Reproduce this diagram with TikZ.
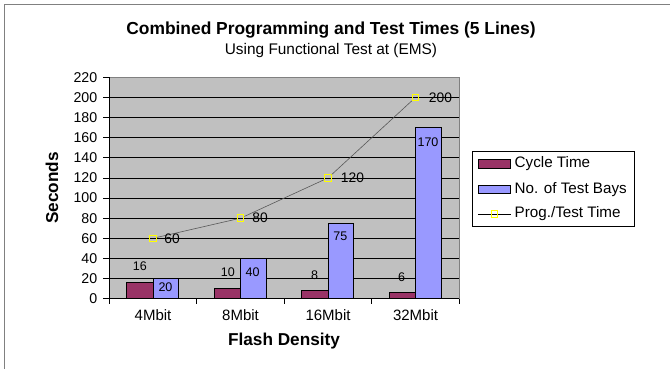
\documentclass[tikz,border=0pt]{standalone}
\usepackage{fontspec}
\setmainfont{Liberation Sans}
\definecolor{plotbg}{HTML}{C0C0C0}
\definecolor{cyclecol}{HTML}{993366}
\definecolor{baycol}{HTML}{9999FF}
\definecolor{markcol}{HTML}{FFFF00}
\definecolor{framecol}{HTML}{808080}
\begin{document}
\begin{tikzpicture}[x=1pt,y=1pt,
  ticklbl/.style={font=\fontsize{14.2}{14.2}\selectfont, inner sep=0pt, anchor=east},
  catlbl/.style={font=\fontsize{15}{15}\selectfont, inner sep=0pt},
  datalbl/.style={font=\fontsize{12.5}{12.5}\selectfont, inner sep=0pt},
  linelbl/.style={font=\fontsize{13.8}{13.8}\selectfont, inner sep=0pt, anchor=west},
  leglbl/.style={font=\fontsize{15.2}{15.2}\selectfont, inner sep=0pt, anchor=west},
  cyclebar/.style={fill=cyclecol, draw=black, line width=0.8pt},
  baybar/.style={fill=baycol, draw=black, line width=0.8pt},
  marker/.style={draw=markcol, line width=0.9pt, rectangle, minimum size=6.5pt, inner sep=0pt},
  progline/.style={draw=black!65, line width=0.6pt},
  grid line/.style={draw=black, line width=0.8pt},
]
\useasboundingbox (0,0) rectangle (670,369);
\fill[white] (0,0) rectangle (670,369);
\draw[framecol, line width=0.9pt] (4,0) -- (4,365) -- (670,365);

% titles
\node[font=\fontsize{17.4}{17.4}\selectfont\bfseries, inner sep=0pt] (title) at (331,339) {Combined Programming and Test Times (5 Lines)};
\node[font=\fontsize{15.4}{15.4}\selectfont, inner sep=0pt] (subtitle) at (331,318) {Using Functional Test at (EMS)};
\node[font=\fontsize{17.2}{17.2}\selectfont\bfseries, inner sep=0pt] (xtitle) at (284,28.3) {Flash Density};
\node[font=\fontsize{17.2}{17.2}\selectfont\bfseries, inner sep=0pt, rotate=90] (ytitle) at (52,181) {Seconds};

\begin{scope}[shift={(109.3,70.3)}, yscale=1.00636]
  \fill[plotbg] (0,0) rectangle (350,220);
  \foreach \v in {20,40,...,200} \draw[grid line] (0,\v) -- (350,\v);
  \draw[framecol, line width=0.8pt] (0,220) -- (350,220) -- (350,0);
  % bars
  \foreach \i/\c/\b in {0/16/20, 1/10/40, 2/8/75, 3/6/170} {
    \draw[cyclebar] ({87.5*\i+17.5},0) rectangle ({87.5*\i+43.75},\c);
    \draw[baybar] ({87.5*\i+43.75},0) rectangle ({87.5*\i+69.5},\b);
  }
  % axes
  \draw[black, line width=0.9pt] (0,220) -- (0,0) -- (350,0);
  \foreach \v in {0,20,...,220} {
    \draw[black, line width=0.8pt] (-6,\v) -- (0,\v);
    \node[ticklbl] (yl\v) at (-11.9,\v) {\v};
  }
  \foreach \i in {0,...,4} \draw[black, line width=0.8pt] ({87.5*\i},0) -- ({87.5*\i},-5);
  % category labels
  \node[catlbl] (c1) at (43.75,-16.2) {4Mbit};
  \node[catlbl] (c2) at (131.25,-16.2) {8Mbit};
  \node[catlbl] (c3) at (218.75,-16.2) {16Mbit};
  \node[catlbl] (c4) at (306.25,-16.2) {32Mbit};
  % data labels cycle
  \node[datalbl] (d1) at (30.6,32.5) {16};
  \node[datalbl] (d2) at (118.5,26.5) {10};
  \node[datalbl] (d3) at (205.2,23.5) {8};
  \node[datalbl] (d4) at (292.2,21.6) {6};
  % data labels bays
  \node[datalbl] (e1) at (56.2,11.9) {20};
  \node[datalbl] (e2) at (143.2,26.8) {40};
  \node[datalbl] (e3) at (231,61.6) {75};
  \node[datalbl] (e4) at (318.7,156) {170};
  % line series
  \node[marker] (m1) at (43.75,60) {};
  \node[marker] (m2) at (131.25,80) {};
  \node[marker] (m3) at (218.75,120) {};
  \node[marker] (m4) at (306.25,200) {};
  \draw[progline] (m1) -- (m2) -- (m3) -- (m4);
  \node[linelbl] (l1) at ([xshift=7.5pt]m1.east) {60};
  \node[linelbl] (l2) at ([xshift=8pt]m2.east) {80};
  \node[linelbl] (l3) at ([xshift=9pt]m3.east) {120};
  \node[linelbl] (l4) at ([xshift=9.5pt]m4.east) {200};
\end{scope}

% legend
\node[draw=black, line width=0.8pt, minimum width=161.3pt, minimum height=75pt, inner sep=0pt, fill=white] (legend) at (553.35,179.8) {};
\draw[cyclebar] (478.3,200.7) rectangle (510.7,209.3);
\node[leglbl] (g1) at (514.5,205) {Cycle Time};
\draw[baybar] (478.3,175.4) rectangle (510.7,184);
\node[leglbl] (g2) at (514.5,179.7) {No. of Test Bays};
\coordinate (ga) at (478.3,155);
\coordinate (gb) at (510.7,155);
\draw[black, line width=0.7pt] (ga) -- (gb);
\node[marker] (gm) at (494.5,155) {};
\node[leglbl] (g3) at (514.5,155) {Prog./Test Time};
\end{tikzpicture}
\end{document}
